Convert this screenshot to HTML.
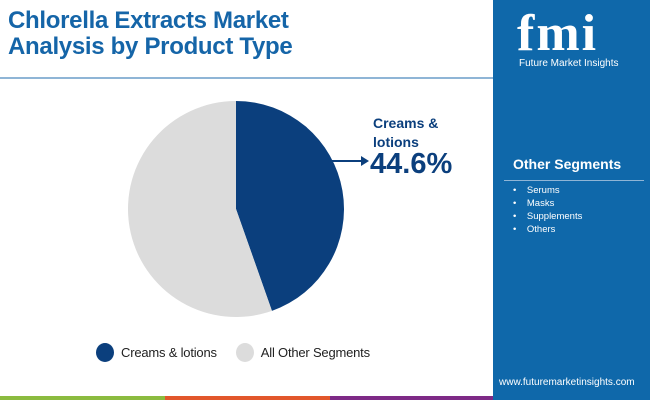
<!DOCTYPE html>
<html><head><meta charset="utf-8"><style>
body{margin:0;width:650px;height:400px;overflow:hidden;background:#fff;font-family:"Liberation Sans",sans-serif;position:relative}
.abs{position:absolute}
</style></head><body>
<div class="abs" style="left:8px;top:8px;font-size:24px;font-weight:bold;color:#1565a8;line-height:26px;letter-spacing:-0.3px">Chlorella Extracts Market<br>Analysis by Product Type</div>
<div class="abs" style="left:0;top:77px;width:493px;height:2px;background:#8fb5d6"></div>
<svg class="abs" style="left:0;top:0" width="493" height="396" id="pie"></svg>
<div class="abs" style="left:373px;top:114px;font-size:14px;font-weight:bold;color:#0b3f7d;line-height:19px">Creams &amp;<br>lotions</div>
<div class="abs" style="left:370px;top:148px;font-size:29px;font-weight:bold;color:#0b3f7d">44.6%</div>
<div class="abs" style="left:96px;top:343px;font-size:13px;color:#222;display:flex;align-items:center;letter-spacing:-0.2px">
<span style="width:18px;height:19px;border-radius:50%;background:#0b3f7d;display:inline-block;margin-right:7px"></span><span>Creams &amp; lotions</span>
<span style="width:18px;height:19px;border-radius:50%;background:#dcdcdc;display:inline-block;margin:0 7px 0 19px"></span><span>All Other Segments</span></div>
<div class="abs" style="left:493px;top:0;width:157px;height:400px;background:#0f68aa;color:#fff">
<div class="abs" style="left:24px;top:8px;font-size:52px;font-weight:bold;font-family:'Liberation Serif',serif;line-height:52px;letter-spacing:2px">fmi</div>
<div class="abs" style="left:26px;top:58px;font-size:10px">Future Market Insights</div>
<div class="abs" style="left:20px;top:156px;font-size:14px;font-weight:bold">Other Segments</div>
<div class="abs" style="left:11px;top:180px;width:140px;height:1px;background:#8fb5d6"></div>
<div class="abs" style="left:20px;top:184px;font-size:9.5px;line-height:13px">•&nbsp;&nbsp;&nbsp;&nbsp;Serums<br>•&nbsp;&nbsp;&nbsp;&nbsp;Masks<br>•&nbsp;&nbsp;&nbsp;&nbsp;Supplements<br>•&nbsp;&nbsp;&nbsp;&nbsp;Others</div>
<div class="abs" style="left:6px;top:377px;font-size:10px">www.futuremarketinsights.com</div>
</div>
<div class="abs" style="left:0;top:396px;width:165px;height:4px;background:#8bbb3f"></div>
<div class="abs" style="left:165px;top:396px;width:165px;height:4px;background:#e2572b"></div>
<div class="abs" style="left:330px;top:396px;width:163px;height:4px;background:#7e2a86"></div>
<script>
const categories=["Creams & lotions","All Other Segments"];
const values=[44.6,55.4];
const colors=["#0b3f7d","#dcdcdc"];
const svg=document.getElementById('pie');
const NS="http://www.w3.org/2000/svg";
const cx=236,cy=209,r=108;
const total=values.reduce((a,b)=>a+b,0);
let a0=-Math.PI/2;
values.forEach((v,i)=>{
  const a1=a0+v/total*2*Math.PI;
  const large=(a1-a0)>Math.PI?1:0;
  const p=document.createElementNS(NS,'path');
  p.setAttribute('d',`M${cx},${cy} L${cx+r*Math.cos(a0)},${cy+r*Math.sin(a0)} A${r},${r} 0 ${large} 1 ${cx+r*Math.cos(a1)},${cy+r*Math.sin(a1)} Z`);
  p.setAttribute('fill',colors[i]);
  
  
  svg.appendChild(p);
  a0=a1;
});
const l=document.createElementNS(NS,'path');
l.setAttribute('d','M332,161 L362,161');
l.setAttribute('stroke','#0b3f7d');l.setAttribute('stroke-width','2');


svg.appendChild(l);
const h=document.createElementNS(NS,'path');
h.setAttribute('d','M361,156 L369,161 L361,166 Z');h.setAttribute('fill','#0b3f7d');


svg.appendChild(h);
</script>
</body></html>
